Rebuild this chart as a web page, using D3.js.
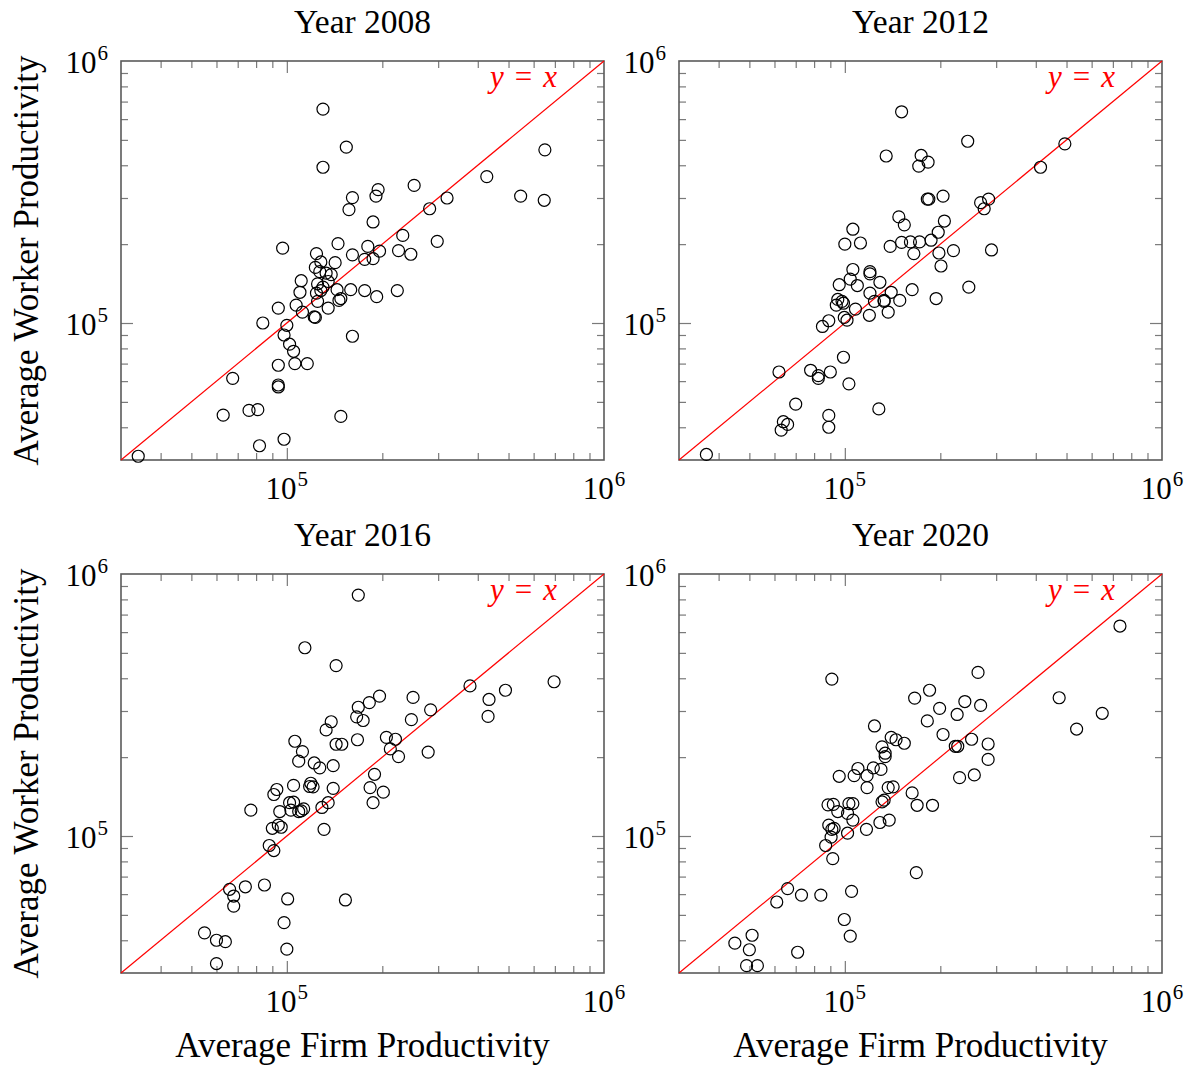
<!DOCTYPE html>
<html>
	<head>
		<title>Firm vs Worker Productivity</title>

		<style>
			body
			{
				margin: 0;
				background: #ffffff;
			}

			svg
			{
				display: block;
			}

			text
			{
				font-family: "Liberation Serif", "DejaVu Serif", serif;
				fill: #000000;
			}

			.frame
			{
				fill: none;
				stroke: #5a5a5a;
				stroke-width: 1.6px;
			}

			.tick line
			{
				stroke: #7a7a7a;
				stroke-width: 1.2px;
			}

			.domain
			{
				display: none;
			}

			.tickLabel
			{
				font-size: 31px;
			}

			.tickSup
			{
				font-size: 21px;
			}

			.panelTitle
			{
				font-size: 33.5px;
				text-anchor: middle;
			}

			.axisLabel
			{
				font-size: 35px;
				text-anchor: middle;
			}

			.diagonal
			{
				stroke: #ff0000;
				stroke-width: 1.2px;
			}

			.diagLabel
			{
				font-size: 31px;
				fill: #ff0000;
				text-anchor: end;
			}

			.dot
			{
				fill: none;
				stroke: #000000;
				stroke-width: 1.2px;
			}
		</style>

		<script src="https://d3js.org/d3.v7.min.js"></script>
	</head>

	<body>
		<svg width="1194" height="1066"></svg>

		<script>
			// values in thousands: [average firm productivity, average worker productivity]
			var unit = 1000;

			var years = ["2008", "2012", "2016", "2020"];

			var data2008 = [
				[130,655],[154,469],[130,393],[651,458],[427,362],[252,335],[194,323],[191,305],[161,301],[320,300],
				[546,305],[648,294],[282,273],[157,271],[187,243],[232,216],[298,205],[145,201],[97,193],[180,196],
				[196,188],[225,189],[246,183],[161,182],[176,175],[187,176],[124,184],[128,171],[142,170],[123,163],
				[127,157],[133,155],[138,153],[111,145],[135,144],[125,141],[130,137],[110,131],[124,130],[128,133],
				[144,134],[159,134],[176,133],[223,133],[192,126],[148,124],[146,122],[125,121],[107,117],[135,114],
				[94,114],[112,110],[122,105.5],[123,105],[84,100],[100,98],[98,90],[102,83],[105,78],[161,89],
				[94,69],[106,70],[116,70],[67.5,61.5],[94,58],[94,57],[63,44.5],[76,46.4],[81,46.7],[148,44],
				[98,36],[82,34],[34,31]
			];

			var data2012 = [
				[151,640],[244,494],[494,483],[135,434],[174,436],[171,397],[183,411],[414,393],[204,305],[182,297],
				[184,297],[268,288],[284,297],[275,273],[148,254],[154,237],[206,245],[106,228],[197,222],[187,207],
				[100,200],[112,202],[139,196],[151,203],[161,204],[172,204],[165,184],[198,185],[220,189],[290,190],
				[201,165],[106,160],[120,157],[120,154],[104,147],[109.5,139],[96,140],[129,143],[120,130],[140,131],
				[163,134],[246,137],[95,123],[98,121],[99,119],[94,117],[124,121],[133,122],[133,121],[149,122],
				[194,124],[108,113],[137,110],[119.5,107],[99.6,105],[101.6,102.5],[89,102],[85,97],[99,74],[62,65],
				[78,66],[82.5,63],[82.5,61.5],[90,65],[103,58.6],[70,49],[128,47],[89,44.4],[89,40],[64,42],
				[66,41],[63,39],[36.6,31.5]
			];

			var data2016 = [
				[168,831],[114,523],[143,447],[696,388],[378,374],[434,332],[489,360],[431,286],[196,342],[182,323],
				[168,310],[250,338],[284,303],[247,278],[166,285],[174,276],[138,273],[133,254],[167,233],[206,238],
				[220,234],[212,215],[225,201],[279,209],[143,224],[149,224],[106,230],[112,210],[109,193],[122,190],
				[127,182],[140,185.5],[189,172],[140,152],[183,153],[201.5,147],[187,134],[119,159],[118,154.5],[121,154],
				[105,156],[93,150.5],[91,144],[102,134],[105,134.6],[103,125.5],[109,124],[111,124.7],[113,127],[95,124],
				[135,134],[129,128.5],[77,125.5],[90,107],[94,110],[96,108],[131,106],[88,92],[91,88],[66,62.6],
				[68,59],[68,54],[74,64],[85,65],[100.6,57.5],[153,57],[98,46.7],[100,37],[55,42.7],[60,40],
				[64,39.5],[60,32.6]
			];

			var data2020 = [
				[737,633],[263,421],[91,397],[474,337],[166,336],[185,360],[239,326],[268,315],[199,307],[226,291],
				[182,275],[648,294],[538,256],[124,263],[204,244],[251,234],[283,224.5],[283,196],[223,220],[227,220],
				[230,167],[256,171],[140,238],[145,233],[154,226],[131,219],[134,207],[134,201],[110,181],[123,182],
				[130,179.5],[117.5,170],[107,170],[96,169],[117.5,153],[137,153],[142,154],[163,146],[169,131],[189,131],
				[131,135],[133,137],[88.5,131.5],[92,132],[103,133],[106,133],[95,124],[102,122],[106,115],[138,115],
				[129,112.6],[117,106],[89,110],[92.5,107],[91,106],[102,102.5],[90.5,99],[87,92],[91.6,82],[168,72.5],
				[66,63],[61,56],[73,59.5],[84,59.5],[105,61.5],[99.6,48],[104,41.5],[45,39],[51,41.8],[50,36.8],
				[71,36],[49,32],[53,32]
			];

			var seriesByYear = [data2008, data2012, data2016, data2020];

			var axisMin = 3e4;
			var axisMax = 1e6;
			var minorTicks = [4e4, 5e4, 6e4, 7e4, 8e4, 9e4, 2e5, 3e5, 4e5, 5e5, 6e5, 7e5, 8e5, 9e5];
			var tickLabels = [{ value: 1e5, base: "10", exp: "5" }, { value: 1e6, base: "10", exp: "6" }];

			var xLabel = "Average Firm Productivity";
			var yLabel = "Average Worker Productivity";

			let scatterGrid =
			{
				panelLefts: [121, 679],
				panelTops: [61, 574],
				panelWidth: 483,
				panelHeight: 399,

				drawAll: function()
				{
					var svg = d3.select("svg");
					svg.html("");

					for (var i = 0; i < years.length; i++)
					{
						var col = i % 2;
						var row = Math.floor(i / 2);
						this.drawPanel(svg, this.panelLefts[col], this.panelTops[row], years[i], seriesByYear[i]);
					}

					// shared axis titles
					for (var r = 0; r < 2; r++)
					{
						svg.append("text")
						.attr("class", "axisLabel")
						.attr("transform", "translate(38," + (this.panelTops[r] + this.panelHeight / 2) + ") rotate(-90)")
						.text(yLabel);
					}

					for (var c = 0; c < 2; c++)
					{
						svg.append("text")
						.attr("class", "axisLabel")
						.attr("x", this.panelLefts[c] + this.panelWidth / 2)
						.attr("y", 1057)
						.text(xLabel);
					}
				},

				drawPanel: function(svg, left, top, year, points)
				{
					var w = this.panelWidth;
					var h = this.panelHeight;

					var x = d3.scaleLog().domain([axisMin, axisMax]).range([0, w]);
					var y = d3.scaleLog().domain([axisMin, axisMax]).range([h, 0]);

					var g = svg.append("g").attr("transform", "translate(" + left + "," + top + ")");

					// inward ticks on all four sides
					var sides = [
						{ gen: d3.axisBottom, scale: x, shift: "translate(0," + h + ")" },
						{ gen: d3.axisTop, scale: x, shift: "translate(0,0)" },
						{ gen: d3.axisLeft, scale: y, shift: "translate(0,0)" },
						{ gen: d3.axisRight, scale: y, shift: "translate(" + w + ",0)" }
					];

					sides.forEach(function(s)
					{
						g.append("g")
						.attr("transform", s.shift)
						.call(s.gen(s.scale).tickValues(minorTicks).tickSize(-7).tickFormat(""));

						g.append("g")
						.attr("transform", s.shift)
						.call(s.gen(s.scale).tickValues([1e5]).tickSize(-12).tickFormat(""));
					});

					g.append("rect")
					.attr("class", "frame")
					.attr("x", 0)
					.attr("y", 0)
					.attr("width", w)
					.attr("height", h);

					// tick labels, 10^n
					var xl = g.selectAll("text.xTick")
					.data(tickLabels)
					.enter()
					.append("text")
					.attr("class", "tickLabel xTick")
					.attr("text-anchor", "middle")
					.attr("x", function(d)
					{
						return x(d.value);
					})
					.attr("y", h + 39);
					xl.append("tspan").text(function(d) { return d.base; });
					xl.append("tspan").attr("class", "tickSup").attr("dy", -13).attr("dx", 1).text(function(d) { return d.exp; });

					var yl = g.selectAll("text.yTick")
					.data(tickLabels)
					.enter()
					.append("text")
					.attr("class", "tickLabel yTick")
					.attr("text-anchor", "end")
					.attr("x", -13)
					.attr("y", function(d)
					{
						return y(d.value) + 12;
					});
					yl.append("tspan").text(function(d) { return d.base; });
					yl.append("tspan").attr("class", "tickSup").attr("dy", -13).attr("dx", 1).text(function(d) { return d.exp; });

					// y = x reference line
					g.append("line")
					.attr("class", "diagonal")
					.attr("x1", x(axisMin))
					.attr("y1", y(axisMin))
					.attr("x2", x(axisMax))
					.attr("y2", y(axisMax));

					var dl = g.append("text")
					.attr("class", "diagLabel")
					.attr("x", w - 47)
					.attr("y", 26);
					dl.append("tspan").attr("font-style", "italic").text("y");
					dl.append("tspan").attr("dx", 11).text("=");
					dl.append("tspan").attr("dx", 11).attr("font-style", "italic").text("x");

					g.selectAll("circle.dot")
					.data(points)
					.enter()
					.append("circle")
					.attr("class", "dot")
					.attr("cx", function(d)
					{
						return x(d[0] * unit);
					})
					.attr("cy", function(d)
					{
						return y(d[1] * unit);
					})
					.attr("r", 6);

					svg.append("text")
					.attr("class", "panelTitle")
					.attr("x", left + w / 2)
					.attr("y", top - 28)
					.text("Year " + year);
				}
			};

			scatterGrid.drawAll();
		</script>
	</body>
</html>
